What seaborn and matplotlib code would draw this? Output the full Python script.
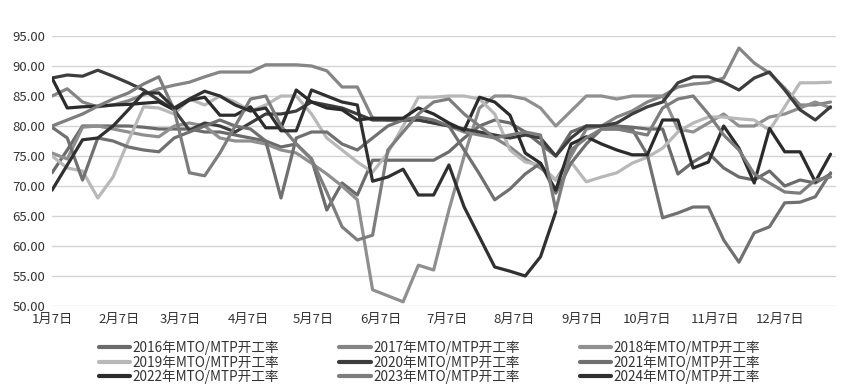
import numpy as np
import pandas as pd
import seaborn as sns
import matplotlib
matplotlib.use("Agg")
import matplotlib.pyplot as plt
from matplotlib.lines import Line2D

years = ["2016", "2017", "2018", "2019", "2020", "2021", "2022", "2023", "2024"]

s2016 = [72.2, 76.0, 80.0, 80.0, 80.0, 80.0, 79.8, 79.5, 79.5, 79.5, 79.0, 79.0, 78.5,
         78.0, 77.5, 76.5, 77.0, 74.5, 66.0, 70.5, 68.5, 74.3, 74.3, 74.3, 74.3, 74.3,
         75.7, 78.0, 80.0, 81.0, 80.5, 79.0, 77.0, 75.0, 79.0, 80.0, 80.0, 80.0, 79.8,
         79.5, 79.5, 72.0, 74.0, 75.5, 73.0, 71.5, 71.0, 72.5, 70.0, 71.0, 70.5, 72.0]
s2017 = [85.0, 86.2, 84.0, 83.2, 83.5, 84.2, 85.2, 86.2, 86.8, 87.3, 88.2, 89.0, 89.0,
         89.0, 90.2, 90.2, 90.2, 90.0, 89.2, 86.5, 86.5, 81.3, 81.0, 81.0, 81.0, 80.5,
         80.0, 79.0, 78.5, 78.0, 76.5, 74.5, 73.0, 71.0, 75.0, 79.5, 80.0, 81.5, 82.5,
         84.0, 85.0, 86.5, 87.0, 87.2, 88.0, 93.0, 90.5, 88.8, 86.3, 83.5, 83.5, 84.0]
s2018 = [75.5, 74.5, 79.8, 80.0, 79.5, 79.0, 78.5, 78.2, 80.0, 80.5, 80.0, 78.0, 77.5,
         77.5, 77.0, 76.0, 75.5, 73.8, 72.0, 70.0, 67.7, 52.7, 51.7, 50.7, 56.8, 56.0,
         66.0, 75.0, 83.0, 85.0, 85.0, 84.5, 83.0, 80.0, 82.5, 85.0, 85.0, 84.5, 85.0,
         85.0, 85.0, 79.5, 79.0, 80.5, 82.0, 80.0, 80.0, 81.5, 82.0, 83.0, 84.0, 83.0]
s2019 = [75.0, 73.0, 72.5, 68.0, 71.5, 77.5, 83.2, 83.0, 82.0, 84.5, 83.5, 85.0, 84.0,
         82.5, 83.5, 85.0, 85.0, 82.0, 78.0, 76.0, 74.0, 72.3, 75.5, 80.0, 84.8, 84.8,
         85.0, 85.0, 84.5, 82.0, 76.0, 74.0, 73.5, 71.0, 74.0, 70.7, 71.5, 72.2, 73.8,
         74.8, 76.3, 79.0, 80.5, 81.5, 81.5, 81.2, 81.0, 79.3, 83.2, 87.2, 87.2, 87.3]
s2020 = [88.0, 88.5, 88.3, 89.3, 88.3, 87.2, 86.0, 84.3, 82.7, 79.3, 80.5, 80.0, 79.0,
         80.5, 82.0, 82.0, 82.5, 84.0, 83.5, 83.0, 82.0, 81.0, 81.0, 81.0, 81.0, 80.5,
         80.0, 79.5, 79.0, 78.5, 78.0, 78.5, 78.0, 75.0, 78.0, 80.0, 80.0, 80.5, 82.0,
         83.2, 84.0, 87.2, 88.2, 88.2, 87.3, 86.0, 88.0, 89.0, 86.0, 82.7, 81.0, 83.2]
s2021 = [79.8, 78.0, 71.0, 78.0, 77.5, 76.5, 76.0, 75.7, 78.0, 79.0, 80.0, 81.0, 80.0,
         79.5, 77.5, 68.0, 78.0, 79.0, 79.0, 77.0, 76.0, 78.0, 80.0, 81.0, 81.5, 81.0,
         80.0, 76.0, 72.0, 67.7, 69.5, 72.0, 73.8, 68.8, 73.8, 77.0, 79.5, 79.5, 79.5,
         75.2, 64.7, 65.5, 66.5, 66.5, 61.0, 57.3, 62.2, 63.2, 67.2, 67.3, 68.2, 72.2]
s2022 = [88.0, 83.0, 83.2, 83.3, 83.5, 83.6, 83.8, 84.0, 82.7, 84.3, 84.8, 81.8, 81.8,
         83.2, 79.7, 79.7, 86.0, 84.0, 83.0, 82.7, 81.0, 81.3, 81.3, 81.3, 83.0, 82.0,
         80.5, 79.3, 84.8, 84.0, 81.8, 75.5, 73.8, 69.3, 77.0, 78.2, 77.0, 76.0, 75.2,
         75.2, 81.0, 81.0, 73.0, 74.0, 80.0, 76.3, 70.5, 79.6, 75.7, 75.7, 70.7, 75.3]
s2023 = [80.0, 81.0, 82.0, 83.3, 84.5, 85.5, 87.0, 88.2, 82.7, 72.2, 71.7, 75.5, 80.0,
         84.5, 85.0, 80.0, 77.0, 74.5, 69.0, 63.2, 61.0, 61.8, 76.0, 79.0, 82.0, 84.0,
         84.5, 82.0, 80.0, 78.0, 78.5, 79.0, 78.5, 66.0, 76.0, 78.0, 79.5, 79.5, 79.0,
         78.5, 83.0, 84.5, 85.0, 82.0, 78.5, 76.0, 72.0, 70.5, 69.0, 68.8, 71.0, 71.5]
s2024 = [69.3, 73.5, 77.7, 78.0, 80.0, 82.7, 85.5, 85.5, 83.0, 84.5, 85.8, 85.0, 83.5,
         82.5, 83.0, 79.2, 79.2, 86.0, 85.0, 84.0, 83.5, 70.8, 71.5, 72.8, 68.5, 68.5,
         73.5, 66.5, 61.5, 56.5, 55.8, 55.0, 58.2, 65.7]

tick_days = [0, 31, 59, 90, 120, 151, 181, 212, 243, 273, 304, 334]
tick_labels = ["1月7日", "2月7日", "3月7日", "4月7日", "5月7日", "6月7日",
               "7月7日", "8月7日", "9月7日", "10月7日", "11月7日", "12月7日"]

series = [s2016, s2017, s2018, s2019, s2020, s2021, s2022, s2023, s2024]
rows = []
for y, vals in zip(years, series):
    for i, v in enumerate(vals):
        rows.append({"day": 7 * i, "rate": v, "year": y})
df = pd.DataFrame(rows)

palette = {"2016": "#6b6b6b", "2017": "#858585", "2018": "#8f8f8f",
           "2019": "#b8b8b8", "2020": "#3d3d3d", "2021": "#707070",
           "2022": "#2b2b2b", "2023": "#7d7d7d", "2024": "#303030"}

sns.set_theme(style="white")
plt.rcParams["font.family"] = ["Noto Sans CJK SC", "DejaVu Sans"]

fig = plt.figure(figsize=(8.49, 3.92), dpi=100)
ax = fig.add_axes([52 / 849, 86 / 392, (836 - 52) / 849, 270 / 392])

sns.lineplot(data=df, x="day", y="rate", hue="year", palette=palette,
             linewidth=2.3, legend=False, ax=ax, sort=False)

ax.set_xlim(0, 359.5)
ax.set_ylim(50, 95)
ax.set_yticks(np.arange(50, 96, 5))
ax.set_yticklabels([f"{v:.2f}" for v in np.arange(50, 96, 5)], fontsize=9.5, color="#333333")
ax.set_xticks(tick_days)
ax.set_xticklabels(tick_labels, fontsize=9.5, color="#333333")
ax.tick_params(axis="both", length=0, pad=5)
ax.grid(axis="y", color="#d4d4d4", linewidth=1.0)
ax.set_axisbelow(True)
for sp in ax.spines.values():
    sp.set_visible(False)
ax.set_xlabel("")
ax.set_ylabel("")

order = ["2016", "2019", "2022", "2017", "2020", "2023", "2018", "2021", "2024"]
handles = [Line2D([0], [0], color=palette[y], linewidth=3) for y in order]
labels = [f"{y}年MTO/MTP开工率" for y in order]
fig.legend(handles, labels, loc="upper center", bbox_to_anchor=(0.506, 0.139),
           ncol=3, frameon=False, fontsize=9.8, handlelength=2.3,
           handletextpad=0.2, columnspacing=4.4, labelspacing=0.0,
           labelcolor="#333333", borderaxespad=0, borderpad=0.2)

fig.savefig("out.png", dpi=100)
